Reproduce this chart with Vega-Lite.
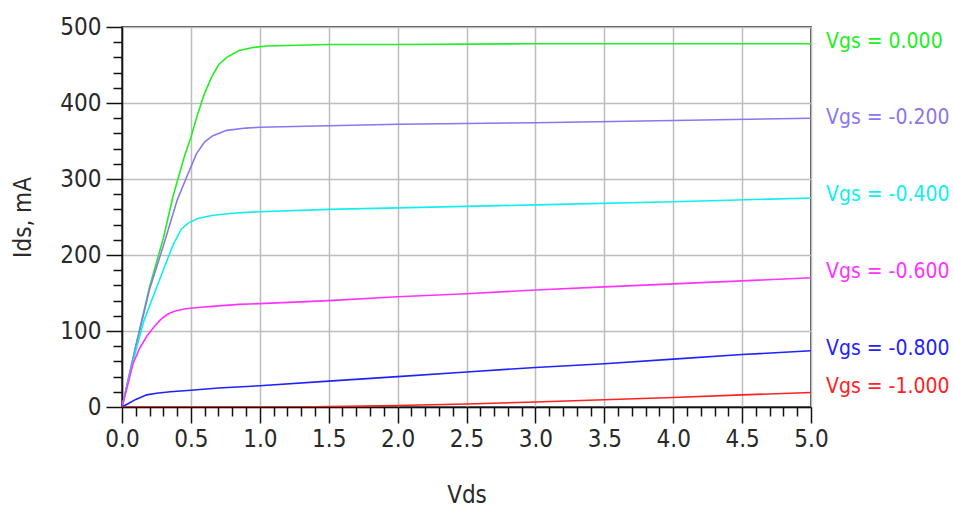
{
  "$schema": "https://vega.github.io/schema/vega-lite/v6.json",
  "autosize": "none",
  "width": 689,
  "height": 380,
  "padding": {"left": 122, "top": 27, "right": 142, "bottom": 105},
  "background": "white",
  "config": {
    "view": {"stroke": "#111111", "strokeWidth": 1.5},
    "font": "DejaVu Sans Condensed"
  },
  "datasets": {
    "curves": [
      {"vgs": "Vgs = 0.000", "vds": 0, "ids": 0},
      {"vgs": "Vgs = 0.000", "vds": 0.1, "ids": 80},
      {"vgs": "Vgs = 0.000", "vds": 0.2, "ids": 158},
      {"vgs": "Vgs = 0.000", "vds": 0.3, "ids": 222},
      {"vgs": "Vgs = 0.000", "vds": 0.37, "ids": 277},
      {"vgs": "Vgs = 0.000", "vds": 0.45, "ids": 328},
      {"vgs": "Vgs = 0.000", "vds": 0.5, "ids": 355},
      {"vgs": "Vgs = 0.000", "vds": 0.55, "ids": 386},
      {"vgs": "Vgs = 0.000", "vds": 0.6, "ids": 413},
      {"vgs": "Vgs = 0.000", "vds": 0.65, "ids": 434},
      {"vgs": "Vgs = 0.000", "vds": 0.7, "ids": 450},
      {"vgs": "Vgs = 0.000", "vds": 0.76, "ids": 460},
      {"vgs": "Vgs = 0.000", "vds": 0.85, "ids": 469},
      {"vgs": "Vgs = 0.000", "vds": 0.95, "ids": 473},
      {"vgs": "Vgs = 0.000", "vds": 1.05, "ids": 475},
      {"vgs": "Vgs = 0.000", "vds": 1.5, "ids": 477},
      {"vgs": "Vgs = 0.000", "vds": 2.0, "ids": 477},
      {"vgs": "Vgs = 0.000", "vds": 3.0, "ids": 478},
      {"vgs": "Vgs = 0.000", "vds": 4.0, "ids": 478},
      {"vgs": "Vgs = 0.000", "vds": 5.0, "ids": 478},

      {"vgs": "Vgs = -0.200", "vds": 0, "ids": 0},
      {"vgs": "Vgs = -0.200", "vds": 0.1, "ids": 80},
      {"vgs": "Vgs = -0.200", "vds": 0.2, "ids": 155},
      {"vgs": "Vgs = -0.200", "vds": 0.3, "ids": 212},
      {"vgs": "Vgs = -0.200", "vds": 0.4, "ids": 272},
      {"vgs": "Vgs = -0.200", "vds": 0.47, "ids": 303},
      {"vgs": "Vgs = -0.200", "vds": 0.54, "ids": 333},
      {"vgs": "Vgs = -0.200", "vds": 0.6, "ids": 349},
      {"vgs": "Vgs = -0.200", "vds": 0.66, "ids": 357},
      {"vgs": "Vgs = -0.200", "vds": 0.76, "ids": 364},
      {"vgs": "Vgs = -0.200", "vds": 0.9, "ids": 367},
      {"vgs": "Vgs = -0.200", "vds": 1.0, "ids": 368},
      {"vgs": "Vgs = -0.200", "vds": 1.5, "ids": 370},
      {"vgs": "Vgs = -0.200", "vds": 2.0, "ids": 372},
      {"vgs": "Vgs = -0.200", "vds": 3.0, "ids": 374},
      {"vgs": "Vgs = -0.200", "vds": 4.0, "ids": 377},
      {"vgs": "Vgs = -0.200", "vds": 5.0, "ids": 380},

      {"vgs": "Vgs = -0.400", "vds": 0, "ids": 0},
      {"vgs": "Vgs = -0.400", "vds": 0.1, "ids": 74},
      {"vgs": "Vgs = -0.400", "vds": 0.16, "ids": 114},
      {"vgs": "Vgs = -0.400", "vds": 0.28, "ids": 171},
      {"vgs": "Vgs = -0.400", "vds": 0.37, "ids": 213},
      {"vgs": "Vgs = -0.400", "vds": 0.43, "ids": 234},
      {"vgs": "Vgs = -0.400", "vds": 0.48, "ids": 242},
      {"vgs": "Vgs = -0.400", "vds": 0.55, "ids": 248},
      {"vgs": "Vgs = -0.400", "vds": 0.65, "ids": 252},
      {"vgs": "Vgs = -0.400", "vds": 0.8, "ids": 255},
      {"vgs": "Vgs = -0.400", "vds": 1.0, "ids": 257},
      {"vgs": "Vgs = -0.400", "vds": 1.5, "ids": 260},
      {"vgs": "Vgs = -0.400", "vds": 2.0, "ids": 262},
      {"vgs": "Vgs = -0.400", "vds": 3.0, "ids": 266},
      {"vgs": "Vgs = -0.400", "vds": 4.0, "ids": 270},
      {"vgs": "Vgs = -0.400", "vds": 5.0, "ids": 275},

      {"vgs": "Vgs = -0.600", "vds": 0, "ids": 0},
      {"vgs": "Vgs = -0.600", "vds": 0.05, "ids": 35},
      {"vgs": "Vgs = -0.600", "vds": 0.08, "ids": 57},
      {"vgs": "Vgs = -0.600", "vds": 0.13, "ids": 78},
      {"vgs": "Vgs = -0.600", "vds": 0.18, "ids": 93},
      {"vgs": "Vgs = -0.600", "vds": 0.23, "ids": 105},
      {"vgs": "Vgs = -0.600", "vds": 0.28, "ids": 115},
      {"vgs": "Vgs = -0.600", "vds": 0.33, "ids": 122},
      {"vgs": "Vgs = -0.600", "vds": 0.38, "ids": 126},
      {"vgs": "Vgs = -0.600", "vds": 0.45, "ids": 129},
      {"vgs": "Vgs = -0.600", "vds": 0.55, "ids": 131},
      {"vgs": "Vgs = -0.600", "vds": 0.7, "ids": 133},
      {"vgs": "Vgs = -0.600", "vds": 0.85, "ids": 135},
      {"vgs": "Vgs = -0.600", "vds": 1.0, "ids": 136},
      {"vgs": "Vgs = -0.600", "vds": 1.5, "ids": 140},
      {"vgs": "Vgs = -0.600", "vds": 2.0, "ids": 145},
      {"vgs": "Vgs = -0.600", "vds": 2.5, "ids": 149},
      {"vgs": "Vgs = -0.600", "vds": 3.0, "ids": 154},
      {"vgs": "Vgs = -0.600", "vds": 3.5, "ids": 158},
      {"vgs": "Vgs = -0.600", "vds": 4.0, "ids": 162},
      {"vgs": "Vgs = -0.600", "vds": 4.5, "ids": 166},
      {"vgs": "Vgs = -0.600", "vds": 5.0, "ids": 170},

      {"vgs": "Vgs = -0.800", "vds": 0, "ids": 0},
      {"vgs": "Vgs = -0.800", "vds": 0.05, "ids": 5},
      {"vgs": "Vgs = -0.800", "vds": 0.1, "ids": 10},
      {"vgs": "Vgs = -0.800", "vds": 0.18, "ids": 16},
      {"vgs": "Vgs = -0.800", "vds": 0.25, "ids": 18},
      {"vgs": "Vgs = -0.800", "vds": 0.35, "ids": 20},
      {"vgs": "Vgs = -0.800", "vds": 0.5, "ids": 22},
      {"vgs": "Vgs = -0.800", "vds": 0.7, "ids": 25},
      {"vgs": "Vgs = -0.800", "vds": 1.0, "ids": 28},
      {"vgs": "Vgs = -0.800", "vds": 1.5, "ids": 34},
      {"vgs": "Vgs = -0.800", "vds": 2.0, "ids": 40},
      {"vgs": "Vgs = -0.800", "vds": 2.5, "ids": 46},
      {"vgs": "Vgs = -0.800", "vds": 3.0, "ids": 52},
      {"vgs": "Vgs = -0.800", "vds": 3.5, "ids": 57},
      {"vgs": "Vgs = -0.800", "vds": 4.0, "ids": 63},
      {"vgs": "Vgs = -0.800", "vds": 4.5, "ids": 69},
      {"vgs": "Vgs = -0.800", "vds": 5.0, "ids": 74},

      {"vgs": "Vgs = -1.000", "vds": 0, "ids": 0},
      {"vgs": "Vgs = -1.000", "vds": 1.3, "ids": 0},
      {"vgs": "Vgs = -1.000", "vds": 1.5, "ids": 0.5},
      {"vgs": "Vgs = -1.000", "vds": 2.0, "ids": 2},
      {"vgs": "Vgs = -1.000", "vds": 2.5, "ids": 4},
      {"vgs": "Vgs = -1.000", "vds": 3.0, "ids": 6.5},
      {"vgs": "Vgs = -1.000", "vds": 3.5, "ids": 9.5},
      {"vgs": "Vgs = -1.000", "vds": 4.0, "ids": 12.5},
      {"vgs": "Vgs = -1.000", "vds": 4.5, "ids": 16},
      {"vgs": "Vgs = -1.000", "vds": 5.0, "ids": 19}
    ],
    "labels": [
      {"vgs": "Vgs = 0.000", "vds": 5.0, "ly": 480},
      {"vgs": "Vgs = -0.200", "vds": 5.0, "ly": 380},
      {"vgs": "Vgs = -0.400", "vds": 5.0, "ly": 279},
      {"vgs": "Vgs = -0.600", "vds": 5.0, "ly": 178},
      {"vgs": "Vgs = -0.800", "vds": 5.0, "ly": 76},
      {"vgs": "Vgs = -1.000", "vds": 5.0, "ly": 26}
    ]
  },
  "layer": [
    {
      "data": {"name": "curves"},
      "mark": {"type": "line", "strokeWidth": 1.6, "clip": true},
      "encoding": {
        "x": {
          "field": "vds",
          "type": "quantitative",
          "scale": {"domain": [0, 5], "nice": false, "zero": false},
          "axis": {
            "title": "Vds",
            "titleFont": "DejaVu Sans Condensed",
            "titleFontSize": 24,
            "titleFontWeight": "normal",
            "titleColor": "#2a2a2a",
            "titlePadding": 32,
            "tickCount": 200,
            "values": [0,0.1,0.2,0.3,0.4,0.5,0.6,0.7,0.8,0.9,1,1.1,1.2,1.3,1.4,1.5,1.6,1.7,1.8,1.9,2,2.1,2.2,2.3,2.4,2.5,2.6,2.7,2.8,2.9,3,3.1,3.2,3.3,3.4,3.5,3.6,3.7,3.8,3.9,4,4.1,4.2,4.3,4.4,4.5,4.6,4.7,4.8,4.9,5],
            "labelExpr": "abs(datum.value*2 - round(datum.value*2)) < 0.001 ? format(datum.value, '.1f') : ''",
            "labelFont": "DejaVu Sans Condensed",
            "labelFontSize": 24,
            "labelColor": "#2a2a2a",
            "labelPadding": 4,
            "labelOverlap": false,
            "labelFlush": false,
            "domainColor": "#111111",
            "domainWidth": 1.5,
            "tickColor": "#111111",
            "tickWidth": 1.5,
            "tickSize": {"condition": {"test": "abs(datum.value*2 - round(datum.value*2)) < 0.001", "value": 16}, "value": 9},
            "grid": true,
            "gridColor": "#bdbdbd",
            "gridWidth": 1.5,
            "gridOpacity": {"condition": {"test": "abs(datum.value*2 - round(datum.value*2)) < 0.001", "value": 1}, "value": 0}
          }
        },
        "y": {
          "field": "ids",
          "type": "quantitative",
          "scale": {"domain": [0, 500], "nice": false},
          "axis": {
            "title": "Ids, mA",
            "titleFont": "DejaVu Sans Condensed",
            "titleFontSize": 24,
            "titleFontWeight": "normal",
            "titleColor": "#2a2a2a",
            "titlePadding": 24,
            "tickCount": 200,
            "values": [0,20,40,60,80,100,120,140,160,180,200,220,240,260,280,300,320,340,360,380,400,420,440,460,480,500],
            "labelExpr": "datum.value % 100 === 0 ? format(datum.value, 'd') : ''",
            "labelFont": "DejaVu Sans Condensed",
            "labelFontSize": 24,
            "labelColor": "#2a2a2a",
            "labelPadding": 5,
            "labelOverlap": false,
            "labelFlush": false,
            "domainColor": "#111111",
            "domainWidth": 1.5,
            "tickColor": "#111111",
            "tickWidth": 1.5,
            "tickSize": {"condition": {"test": "datum.value % 100 === 0", "value": 16}, "value": 9},
            "grid": true,
            "gridColor": "#bdbdbd",
            "gridWidth": 1.5,
            "gridOpacity": {"condition": {"test": "datum.value % 100 === 0", "value": 1}, "value": 0}
          }
        },
        "color": {
          "field": "vgs",
          "type": "nominal",
          "scale": {
            "domain": ["Vgs = 0.000", "Vgs = -0.200", "Vgs = -0.400", "Vgs = -0.600", "Vgs = -0.800", "Vgs = -1.000"],
            "range": ["#22ee22", "#8877ee", "#11eeee", "#ff33ff", "#2222ff", "#ff2222"]
          },
          "legend": null
        }
      }
    },
    {
      "data": {"name": "labels"},
      "mark": {"type": "text", "align": "left", "baseline": "middle", "dx": 15, "font": "DejaVu Sans Condensed", "fontSize": 21, "clip": false},
      "encoding": {
        "x": {"field": "vds", "type": "quantitative"},
        "y": {"field": "ly", "type": "quantitative"},
        "text": {"field": "vgs"},
        "color": {"field": "vgs", "type": "nominal", "legend": null}
      }
    }
  ]
}
